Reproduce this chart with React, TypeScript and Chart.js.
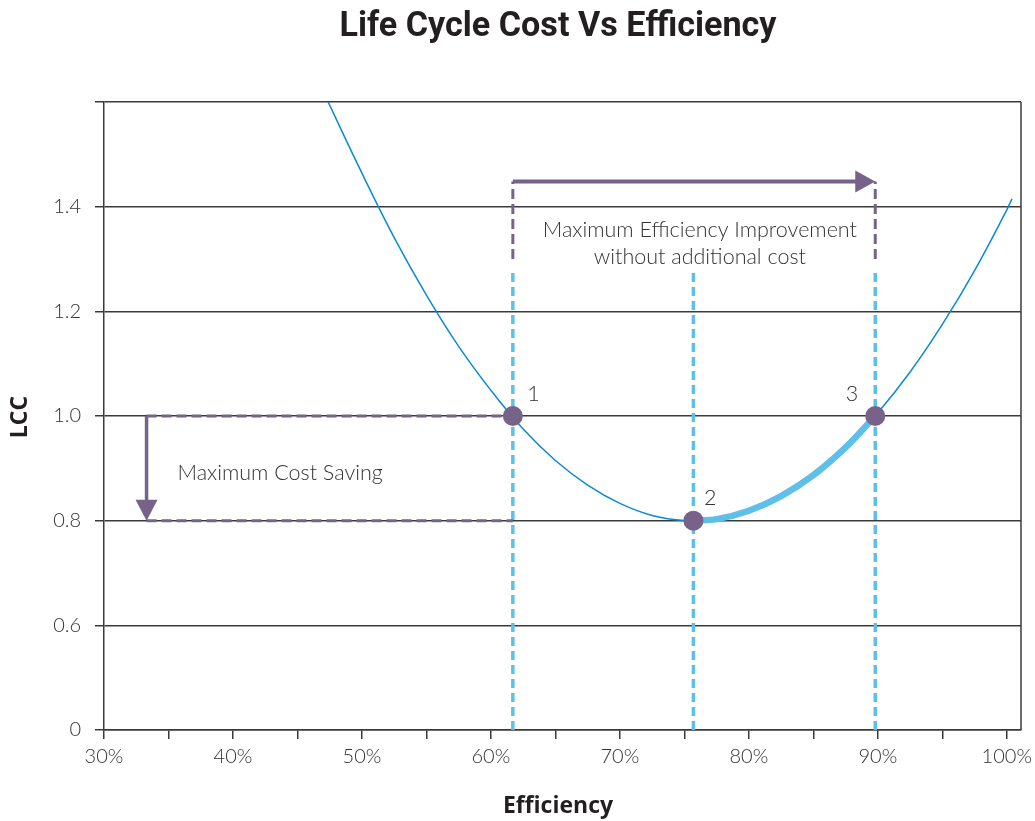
import React, { useEffect, useRef } from "react";
import { Chart, registerables } from "chart.js";

Chart.register(...registerables);

// ---- data ----
const curveEfficiency = [47.0, 50, 52.5, 55, 57.5, 60, 62.5, 65, 67.5, 70, 72.5, 75, 77.5, 80, 82.5, 85, 87.5, 90, 92.5, 95, 97.5, 100, 100.4];
const curveLcc = [1.62, 1.464, 1.341, 1.231, 1.133, 1.049, 0.975, 0.915, 0.868, 0.833, 0.81, 0.8005, 0.803, 0.819, 0.847, 0.887, 0.94, 1.006, 1.084, 1.175, 1.278, 1.394, 1.415];

const highlightEfficiency = [75.7, 77.5, 80, 82.5, 85, 87.5, 89.8];
const highlightLcc = [0.8, 0.803, 0.819, 0.847, 0.887, 0.94, 1.0];

const keyEfficiency = [61.7, 75.7, 89.8];
const keyLcc = [1.0, 0.8, 1.0];
const keyLabels = ["1", "2", "3"];

const guideTopLcc = 1.28;
const improvementArrowLcc = 1.448;
const improvementDashBottomLcc = 1.3;
const savingArrowEfficiency = 33.3;

const xTickValues = [30, 35, 40, 45, 50, 55, 60, 65, 70, 75, 80, 85, 90, 95, 100];
const xTickLabels = ["30%", "", "40%", "", "50%", "", "60%", "", "70%", "", "80%", "", "90%", "", "100%"];
const yTickValues = [0.4, 0.6, 0.8, 1.0, 1.2, 1.4, 1.6];
const yTickLabels = ["0", "0.6", "0.8", "1.0", "1.2", "1.4", ""];

const titleText = "Life Cycle Cost Vs Efficiency";
const xTitle = "Efficiency";
const yTitle = "LCC";
const savingText = "Maximum Cost Saving";
const improvementText = ["Maximum Efficiency Improvement", "without additional cost"];

const PURPLE = "#77638a";
const LIGHT_BLUE = "#5ec0e8";
const BLUE = "#0a8ad6";
const GRID = "#3a3a3a";
const TEXT = "#333333";
const LIGHT_FONT = "Lato";

const annotationPlugin = {
  id: "annotations",
  afterDatasetsDraw(chart: any) {
    const ctx = chart.ctx;
    const xs = chart.scales.x;
    const ys = chart.scales.y;
    const area = chart.chartArea;
    ctx.save();
    // right frame
    ctx.strokeStyle = GRID;
    ctx.lineWidth = 1.5;
    ctx.beginPath();
    ctx.moveTo(area.right, area.top);
    ctx.lineTo(area.right, area.bottom);
    ctx.stroke();

    // horizontal arrow (efficiency improvement)
    const ay = ys.getPixelForValue(improvementArrowLcc);
    const ax0 = xs.getPixelForValue(keyEfficiency[0]);
    const ax1 = xs.getPixelForValue(keyEfficiency[2]);
    ctx.strokeStyle = PURPLE;
    ctx.fillStyle = PURPLE;
    ctx.lineWidth = 4;
    ctx.beginPath();
    ctx.moveTo(ax0, ay);
    ctx.lineTo(ax1 - 16, ay);
    ctx.stroke();
    ctx.beginPath();
    ctx.moveTo(ax1, ay);
    ctx.lineTo(ax1 - 20, ay - 11);
    ctx.lineTo(ax1 - 20, ay + 11);
    ctx.closePath();
    ctx.fill();

    // vertical arrow (cost saving)
    const vx = xs.getPixelForValue(savingArrowEfficiency);
    const vy0 = ys.getPixelForValue(keyLcc[0]);
    const vy1 = ys.getPixelForValue(keyLcc[1]);
    ctx.lineWidth = 3.5;
    ctx.beginPath();
    ctx.moveTo(vx, vy0);
    ctx.lineTo(vx, vy1 - 16);
    ctx.stroke();
    ctx.beginPath();
    ctx.moveTo(vx, vy1);
    ctx.lineTo(vx - 11, vy1 - 21);
    ctx.lineTo(vx + 11, vy1 - 21);
    ctx.closePath();
    ctx.fill();

    // texts
    ctx.fillStyle = TEXT;
    ctx.font = `300 21.5px ${LIGHT_FONT}`;
    ctx.textBaseline = "middle";
    ctx.textAlign = "left";
    ctx.fillText(savingText, xs.getPixelForValue(35.7), ys.getPixelForValue(0.891));
    ctx.textAlign = "center";
    ctx.fillText(improvementText[0], xs.getPixelForValue(76.2), ys.getPixelForValue(1.356));
    ctx.fillText(improvementText[1], xs.getPixelForValue(76.2), ys.getPixelForValue(1.303));

    const labelPos = [
      [63.3, 1.042],
      [77.0, 0.844],
      [88.0, 1.042],
    ];
    keyLabels.forEach((t, i) => {
      ctx.fillText(t, xs.getPixelForValue(labelPos[i][0]), ys.getPixelForValue(labelPos[i][1]));
    });
    ctx.restore();
  },
  afterDraw(chart: any) {
    const ctx = chart.ctx;
    ctx.save();
    ctx.fillStyle = "#231f20";
    ctx.textAlign = "center";
    ctx.textBaseline = "middle";
    ctx.font = "bold 35px Roboto";
    const w = ctx.measureText(titleText).width;
    const sx = 437 / w;
    ctx.save();
    ctx.translate(558, 27);
    ctx.scale(sx, 1);
    ctx.fillText(titleText, 0, 0);
    ctx.restore();
    ctx.font = "bold 23px 'Open Sans'";
    ctx.fillText(xTitle, 558, 806);
    ctx.translate(20, 417);
    ctx.rotate(-Math.PI / 2);
    ctx.fillText(yTitle, 0, 0);
    ctx.restore();
  },
};

export default function App() {
  const ref = useRef<HTMLCanvasElement>(null);
  useEffect(() => {
    if (!ref.current) return;
    const pts = (xs: number[], ys: number[]) => xs.map((x, i) => ({ x, y: ys[i] }));
    const seg = (x0: number, y0: number, x1: number, y1: number) => [
      { x: x0, y: y0 },
      { x: x1, y: y1 },
    ];
    const blueGuides = keyEfficiency.map((e) => ({
      data: seg(e, yTickValues[0], e, guideTopLcc),
      borderColor: LIGHT_BLUE,
      borderWidth: 3.5,
      borderDash: [9, 5],
      pointRadius: 0,
      order: 5,
    }));
    const purpleGuides = [
      seg(keyEfficiency[0], improvementDashBottomLcc, keyEfficiency[0], improvementArrowLcc),
      seg(keyEfficiency[2], improvementDashBottomLcc, keyEfficiency[2], improvementArrowLcc),
      seg(savingArrowEfficiency, keyLcc[0], keyEfficiency[0], keyLcc[0]),
      seg(savingArrowEfficiency, keyLcc[1], keyEfficiency[0], keyLcc[1]),
    ].map((d) => ({
      data: d,
      borderColor: PURPLE,
      borderWidth: 3,
      borderDash: [10, 5],
      pointRadius: 0,
      order: 4,
    }));
    const chart = new Chart(ref.current, {
      type: "line",
      data: {
        datasets: [
          {
            data: pts(keyEfficiency, keyLcc),
            showLine: false,
            pointRadius: 10,
            pointBackgroundColor: PURPLE,
            pointBorderWidth: 0,
            order: 0,
          },
          {
            data: pts(highlightEfficiency, highlightLcc),
            borderColor: LIGHT_BLUE,
            borderWidth: 6.5,
            cubicInterpolationMode: "monotone",
            pointRadius: 0,
            order: 1,
          },
          {
            data: pts(curveEfficiency, curveLcc),
            borderColor: BLUE,
            borderWidth: 1.5,
            tension: 0.4,
            pointRadius: 0,
            order: 2,
          },
          ...blueGuides,
          ...purpleGuides,
        ] as any,
      },
      options: {
        animation: false,
        responsive: false,
        events: [],
        layout: { padding: { top: 102, left: 0, right: 14, bottom: 0 } },
        plugins: { legend: { display: false }, tooltip: { enabled: false }, title: { display: false } },
        scales: {
          x: {
            type: "linear",
            min: 30,
            max: 101.1,
            afterBuildTicks: (s: any) => {
              s.ticks = xTickValues.map((v) => ({ value: v }));
            },
            afterFit: (s: any) => {
              s.height = 91;
              s.paddingLeft = 0;
              s.paddingRight = 0;
            },
            ticks: {
              autoSkip: false,
              maxRotation: 0,
              padding: 6,
              color: TEXT,
              font: { family: LIGHT_FONT, size: 20, weight: "300" as any },
              callback: (v: any) => {
                const i = xTickValues.indexOf(Number(v));
                return i >= 0 ? xTickLabels[i] : "";
              },
            },
            grid: { drawOnChartArea: false, drawTicks: true, tickLength: 9, color: GRID, lineWidth: 1.5 },
            border: { display: true, color: GRID, width: 1.5 },
          },
          y: {
            type: "linear",
            min: 0.4,
            max: 1.6,
            afterBuildTicks: (s: any) => {
              s.ticks = yTickValues.map((v) => ({ value: v }));
            },
            afterFit: (s: any) => {
              s.width = 104;
              s.paddingTop = 0;
              s.paddingBottom = 0;
            },
            ticks: {
              padding: 14,
              color: TEXT,
              font: { family: LIGHT_FONT, size: 20, weight: "300" as any },
              callback: (v: any) => {
                const i = yTickValues.findIndex((t) => Math.abs(t - Number(v)) < 1e-6);
                return i >= 0 ? yTickLabels[i] : "";
              },
            },
            grid: { drawTicks: true, tickLength: 9, color: GRID, lineWidth: 1.5 },
            border: { display: true, color: GRID, width: 1.5 },
          },
        },
      },
      plugins: [annotationPlugin],
    });
    return () => chart.destroy();
  }, []);
  return (
    <div style={{ position: "absolute", left: 0, top: 0, width: 1035, height: 821, background: "#fff" }}>
      <canvas ref={ref} width={1035} height={821} />
    </div>
  );
}
